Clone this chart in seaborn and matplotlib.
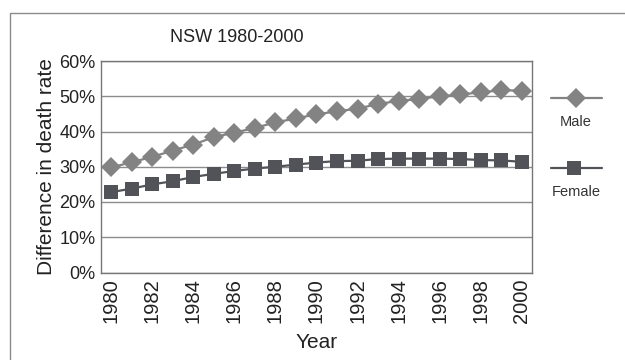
import numpy as np
import pandas as pd
import matplotlib
matplotlib.use("Agg")
import matplotlib.pyplot as plt
from matplotlib.lines import Line2D
from matplotlib.patches import Rectangle
import seaborn as sns

years = list(range(1980, 2001))
male = [29.8, 31.3, 32.8, 34.6, 36.3, 38.4, 39.7, 41.0, 42.6, 43.7, 44.9,
        45.7, 46.5, 47.8, 48.7, 49.2, 50.0, 50.5, 51.1, 51.7, 51.6]
female = [22.8, 23.8, 25.0, 25.9, 27.1, 28.0, 28.8, 29.5, 30.0, 30.6, 31.2,
          31.6, 31.7, 32.2, 32.3, 32.3, 32.3, 32.2, 31.9, 31.8, 31.4]
yticks = [0, 10, 20, 30, 40, 50, 60]

sns.set_style("white")
plt.rcParams['font.family'] = ['Liberation Sans', 'DejaVu Sans']

male_col = '#838383'
female_col = '#525358'

df = pd.DataFrame({'Year': years * 2,
                   'Rate': male + female,
                   'Sex': ['Male'] * len(years) + ['Female'] * len(years)})

fig = plt.figure(figsize=(6.25, 3.6), dpi=100)
ax = fig.add_axes([101 / 625, 1 - 272.5 / 360, 431 / 625, 211.5 / 360])

sns.lineplot(data=df, x='Year', y='Rate', hue='Sex', style='Sex',
             palette={'Male': male_col, 'Female': female_col},
             markers={'Male': 'D', 'Female': 's'},
             dashes=False, linewidth=1.6, markersize=10,
             markeredgewidth=0, legend=False, ax=ax)
for ln in ax.get_lines():
    if ln.get_marker() == 's':
        ln.set_markersize(9.5)

ax.set_xlim(1979.5, 2000.5)
ax.set_ylim(0, 60)
ax.set_yticks(yticks)
ax.set_yticklabels([f'{v}%' for v in yticks], fontsize=13, color='#222222')
ax.set_xticks(years[::2])
ax.set_xticklabels([str(y) for y in years[::2]], rotation=90, fontsize=14.5,
                   color='#222222')
ax.tick_params(length=0, pad=4)
ax.yaxis.grid(True, color='#8c8c8c', linewidth=1.0)
ax.set_axisbelow(True)
for s in ax.spines.values():
    s.set_color('#777777')
    s.set_linewidth(1.0)

ax.set_xlabel('Year', fontsize=15, color='#222222', labelpad=7)
ax.set_ylabel('Difference in death rate', fontsize=15, color='#222222')
ax.yaxis.set_label_coords(-0.105, 0.5)
fig.text(237 / 625, 1 - 37 / 360, 'NSW 1980-2000', fontsize=13,
         ha='center', va='center', color='#222222')

# legend drawn as marker over label
for yl, yt, col, mk, ms, lab, xm in [(97.5, 122.5, male_col, 'D', 10, 'Male', 576),
                                     (167.5, 191.5, female_col, 's', 9.5, 'Female', 574)]:
    fig.add_artist(Line2D([551 / 625, 602 / 625], [1 - yl / 360] * 2,
                          color=col, linewidth=1.6, transform=fig.transFigure))
    fig.add_artist(Line2D([xm / 625], [1 - yl / 360], marker=mk, markersize=ms,
                          markeredgewidth=0, color=col, linestyle='none',
                          transform=fig.transFigure))
    fig.text(576 / 625, 1 - yt / 360, lab, fontsize=10.5, ha='center',
             va='center', color='#333333')

fig.add_artist(Rectangle((9.5 / 625, -0.1), 1.2, 1.1 - 12.5 / 360,
                         transform=fig.transFigure, fill=False,
                         edgecolor='#8a8a8a', linewidth=1.0))

fig.savefig('out.png', dpi=100)
